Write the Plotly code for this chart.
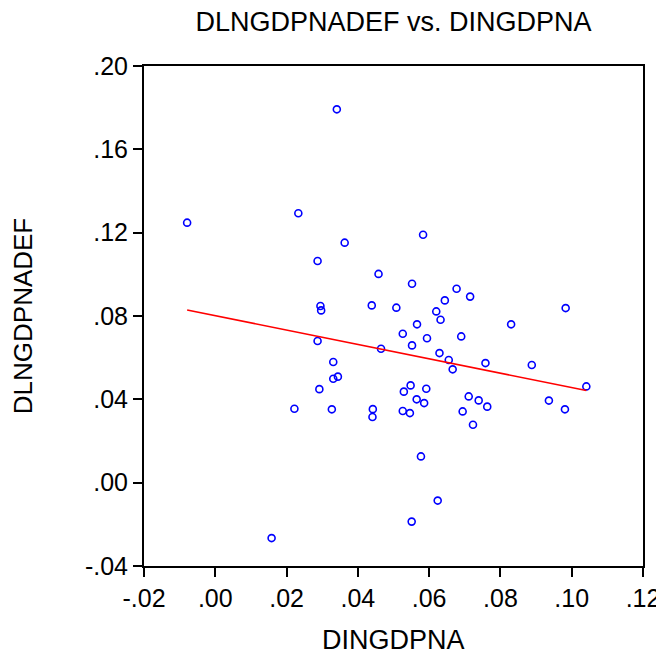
import numpy as np
import plotly.graph_objects as go

# DINGDPNA (x) and DLNGDPNADEF (y) values
dingdpna = [
    0.0341, -0.0079, 0.0233, 0.0363, 0.0287, 0.0458, 0.0295, 0.0297, 0.0439, 0.0508,
    0.0583, 0.0552, 0.0677, 0.0715, 0.0644, 0.0620, 0.0632, 0.0983, 0.0566, 0.0830,
    0.0526, 0.0594, 0.0690, 0.0552, 0.0465, 0.0629, 0.0655, 0.0758, 0.0888, 0.0666,
    0.1041, 0.0548, 0.0529, 0.0592, 0.0711, 0.0565, 0.0586, 0.0739, 0.0763, 0.0936,
    0.0981, 0.0526, 0.0546, 0.0694, 0.0723, 0.0577, 0.0624, 0.0551, 0.0287, 0.0331,
    0.0331, 0.0344, 0.0292, 0.0222, 0.0327, 0.0442, 0.0441, 0.0158,
]
dlngdpnadef = [
    0.1792, 0.1248, 0.1293, 0.1152, 0.1064, 0.1002, 0.0848, 0.0827, 0.0851, 0.0840,
    0.1190, 0.0955, 0.0931, 0.0893, 0.0875, 0.0822, 0.0782, 0.0838, 0.0760, 0.0760,
    0.0715, 0.0693, 0.0702, 0.0659, 0.0643, 0.0622, 0.0589, 0.0574, 0.0565, 0.0544,
    0.0462, 0.0467, 0.0437, 0.0451, 0.0414, 0.0400, 0.0382, 0.0395, 0.0365, 0.0394,
    0.0352, 0.0344, 0.0334, 0.0342, 0.0278, 0.0126, -0.0086, -0.0187, 0.0680, 0.0579,
    0.0499, 0.0509, 0.0449, 0.0355, 0.0352, 0.0353, 0.0315, -0.0266,
]

x_tickvals = [-0.02, 0.00, 0.02, 0.04, 0.06, 0.08, 0.10, 0.12]
x_ticktext = ["-.02", ".00", ".02", ".04", ".06", ".08", ".10", ".12"]
y_tickvals = [-0.04, 0.00, 0.04, 0.08, 0.12, 0.16, 0.20]
y_ticktext = ["-.04", ".00", ".04", ".08", ".12", ".16", ".20"]

title_text = "DLNGDPNADEF vs. DINGDPNA"
x_title = "DINGDPNA"
y_title = "DLNGDPNADEF"

# least-squares regression line through the data
xa = np.array(dingdpna)
ya = np.array(dlngdpnadef)
slope, intercept = np.polyfit(xa, ya, 1)
fit_x = [xa.min(), xa.max()]
fit_y = [intercept + slope * v for v in fit_x]

FONT = "Liberation Sans, Arial, sans-serif"

fig = go.Figure()
fig.add_trace(go.Scatter(
    x=dingdpna, y=dlngdpnadef, mode="markers",
    marker=dict(symbol="circle-open", size=7, color="#0000ff", line=dict(width=1.6, color="#0000ff")),
    showlegend=False, hoverinfo="skip", cliponaxis=False,
))
fig.add_trace(go.Scatter(
    x=fit_x, y=fit_y, mode="lines",
    line=dict(color="#ff0000", width=1.6),
    showlegend=False, hoverinfo="skip",
))

axis_common = dict(
    showgrid=False, zeroline=False, automargin=False,
    showline=True, linecolor="black", linewidth=2, mirror=True,
    ticks="outside", ticklen=9, tickwidth=1.5, tickcolor="black",
    tickfont=dict(family=FONT, size=25, color="black"),
)

# the page body has an 8px margin, so the figure is sized to fit inside the window
fig.update_layout(
    width=656, height=646,
    margin=dict(l=136, r=21, t=58, b=88, autoexpand=False),
    paper_bgcolor="white", plot_bgcolor="white",
    title=dict(text=title_text, x=0.5, xanchor="center", xref="paper", y=0.979, yanchor="middle",
               font=dict(family=FONT, size=27, color="black")),
    xaxis=dict(range=[-0.02, 0.12], tickvals=x_tickvals, ticktext=x_ticktext,
               **axis_common),
    yaxis=dict(range=[-0.04, 0.20], tickvals=y_tickvals, ticktext=y_ticktext,
               title=dict(text=y_title, font=dict(family=FONT, size=26, color="black"), standoff=52),
               **axis_common),
)

# x-axis label placed as an annotation so it can sit lower than the margin allows a title
fig.add_annotation(
    text=x_title, xref="paper", yref="paper", x=0.5, y=-0.147,
    xanchor="center", yanchor="middle", showarrow=False,
    font=dict(family=FONT, size=27, color="black"),
)

fig.write_html("out.html")
